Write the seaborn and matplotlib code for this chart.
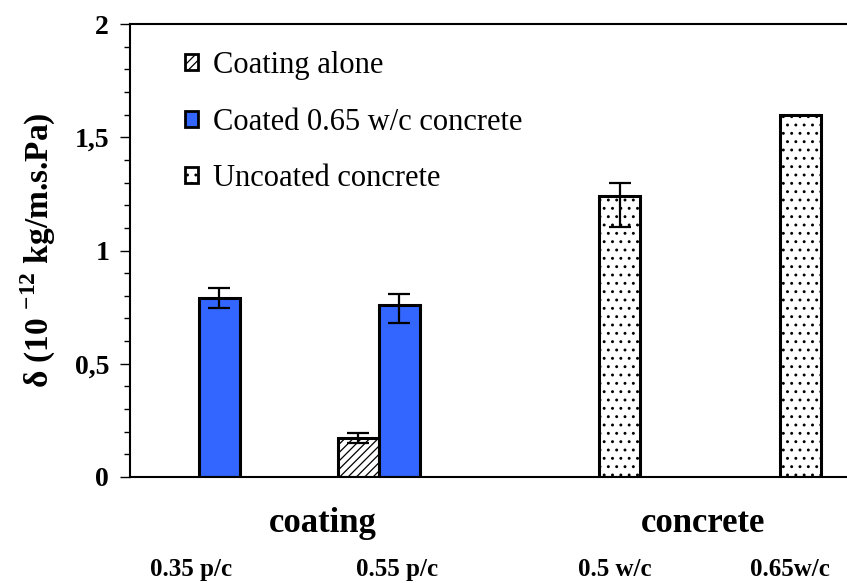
import numpy as np
import pandas as pd
import seaborn as sns
import matplotlib.pyplot as plt
from matplotlib.patches import Patch
from matplotlib.ticker import MultipleLocator, FuncFormatter

# Data
series = ["Coated 0.65 w/c concrete", "Coating alone", "Coated 0.65 w/c concrete",
          "Uncoated concrete", "Uncoated concrete"]
delta = [0.79, 0.17, 0.76, 1.24, 1.60]
err_low = [0.045, 0.02, 0.08, 0.135, None]
err_high = [0.045, 0.025, 0.05, 0.06, None]

sub_labels = ["0.35 p/c", "0.55 p/c", "0.5 w/c", "0.65w/c"]
group_labels = ["coating", "concrete"]
legend_order = ["Coating alone", "Coated 0.65 w/c concrete", "Uncoated concrete"]

# layout (x in bar-width units)
bar_x = [2.18, 5.57, 6.57, 11.94, 16.35]
sub_x = [1.49, 6.51, 11.83, 16.10]
group_x = [4.71, 13.98]

colors = {"Coating alone": "white", "Coated 0.65 w/c concrete": "#3366FF",
          "Uncoated concrete": "white"}
hatches = {"Coating alone": "////", "Coated 0.65 w/c concrete": "",
           "Uncoated concrete": ".."}

sns.set_theme(style="white")
plt.rcParams['font.family'] = ['Liberation Serif', 'DejaVu Serif']
plt.rcParams['mathtext.fontset'] = 'custom'
plt.rcParams['mathtext.rm'] = 'Liberation Serif'
plt.rcParams['mathtext.bf'] = 'Liberation Serif:bold'
plt.rcParams['hatch.linewidth'] = 0.9
plt.rcParams['hatch.color'] = 'black'
for k in ['text.color', 'axes.labelcolor', 'xtick.color', 'ytick.color']:
    plt.rcParams[k] = 'black'

df = pd.DataFrame({"x": bar_x, "delta": delta, "series": series})

fig = plt.figure(figsize=(8.47, 5.83), dpi=100)
ax = fig.add_axes([130/847, 106/583, 727/847, 453/583])

sns.barplot(data=df, x="x", y="delta", hue="series", hue_order=legend_order,
            palette=colors, native_scale=True, dodge=False, width=1.0,
            saturation=1, errorbar=None, edgecolor="black", linewidth=2.2,
            legend=False, ax=ax)

for p in ax.patches:
    cx = p.get_x() + p.get_width() / 2
    i = int(np.argmin([abs(cx - b) for b in bar_x]))
    p.set_hatch(hatches[series[i]])

# error bars
ex = [bar_x[i] for i in range(len(delta)) if err_low[i] is not None]
ey = [delta[i] for i in range(len(delta)) if err_low[i] is not None]
elo = [e for e in err_low if e is not None]
ehi = [e for e in err_high if e is not None]
ax.errorbar(ex, ey, yerr=[elo, ehi], fmt='none', ecolor='black',
            elinewidth=1.6, capsize=8, capthick=1.6, zorder=5)

ax.set_xlim(0, 727/41)
ax.set_ylim(0, 2)
ax.yaxis.set_major_locator(MultipleLocator(0.5))
ax.yaxis.set_minor_locator(MultipleLocator(0.1))
ax.yaxis.set_major_formatter(FuncFormatter(lambda v, p: f"{v:g}".replace(".", ",")))
ax.tick_params(axis='y', which='major', direction='out', length=7, width=1,
               left=True, pad=8, labelsize=20, colors='black')
ax.tick_params(axis='y', which='minor', direction='out', length=4.5, width=1,
               left=True)
for lab in ax.get_yticklabels():
    lab.set_fontweight('bold')

ax.set_xticks(sub_x)
ax.set_xticklabels(sub_labels, fontsize=18, fontweight='bold')
ax.tick_params(axis='x', length=0, pad=58, colors='black')
ax.set_xlabel("")

for gx, gl in zip(group_x, group_labels):
    ax.text(gx, -0.102, gl, transform=ax.get_xaxis_transform(), ha='center',
            va='center', fontsize=25, fontweight='bold', color='black')

ax.set_ylabel("δ (10 $^{\\mathbf{-12}}$ kg/m.s.Pa)", fontsize=24,
              fontweight='bold', color='black')
ax.yaxis.set_label_coords(-(130 - 58) / 727, 0.5)

for s in ["left", "top", "bottom", "right"]:
    ax.spines[s].set_color('black')
    ax.spines[s].set_linewidth(1.5)

handles = [Patch(facecolor=colors[s], edgecolor='black', linewidth=2,
                 hatch=hatches[s], label=s) for s in legend_order]
ax.legend(handles=handles, loc='upper left', bbox_to_anchor=(0.0757, 0.94),
          frameon=False, fontsize=22, borderpad=0, borderaxespad=0,
          handlelength=0.42, handleheight=0.42, handletextpad=0.5,
          labelspacing=0.9, labelcolor='black')

fig.savefig("out.png", dpi=100)
